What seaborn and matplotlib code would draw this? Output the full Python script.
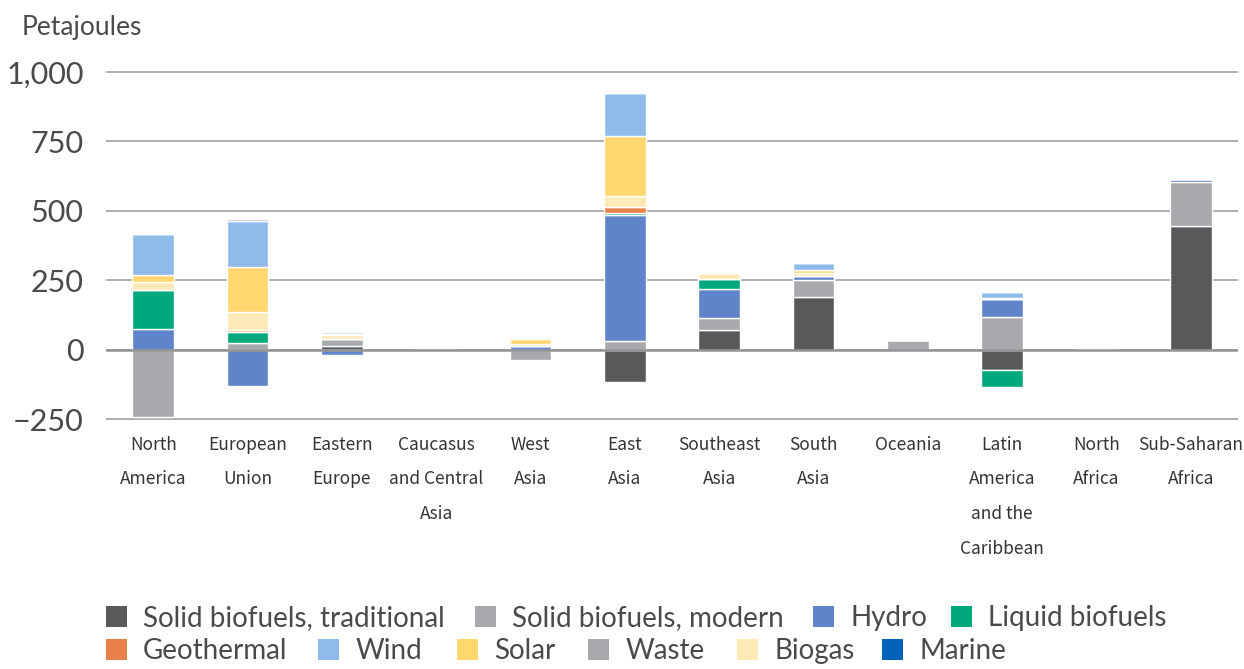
import numpy as np
import matplotlib.pyplot as plt
import seaborn as sns
from matplotlib.patches import Patch

regions = ["North\nAmerica", "European\nUnion", "Eastern\nEurope", "Caucasus\nand Central\nAsia",
           "West\nAsia", "East\nAsia", "Southeast\nAsia", "South\nAsia", "Oceania",
           "Latin\nAmerica\nand the\nCaribbean", "North\nAfrica", "Sub-Saharan\nAfrica"]

# petajoules, one value per region
trad = [0, 0, 12, 0, 0, -115, 70, 191, 0, -75, 0, 444]
modern = [-242, 22, 28, 0, -37, 32, 43, 60, 33, 119, 2, 160]
hydro = [76, -130, -20, 6, 14, 452, 107, 14, 0, 62, 0, 12]
liquid = [137, 40, 0, 0, 0, 7, 34, 0, 0, -60, 0, 0]
geothermal = [0, 7, 0, 0, 0, 22, 0, 0, 0, 0, 0, 0]
biogas = [29, 67, 12, 0, 5, 42, 22, 10, 0, 0, 0, 0]
solar = [25, 160, 4, 0, 18, 213, 0, 12, 0, 5, 0, 0]
wind = [151, 167, 6, 0, 6, 157, 0, 26, 0, 22, 0, 0]
waste = [0, 9, 0, 0, 0, 0, 0, 0, 0, 0, 0, 0]
marine = [0, 0, 0, 0, 0, 0, 0, 0, 0, 0, 0, 0]

ytick_vals = [-250, 0, 250, 500, 750, 1000]
ytick_labels = ["\u2212250", "0", "250", "500", "750", "1,000"]

colors = {
    "Solid biofuels, traditional": "#58595b",
    "Solid biofuels, modern": "#a7a9ac",
    "Hydro": "#6084c9",
    "Liquid biofuels": "#00a87e",
    "Geothermal": "#e8804a",
    "Wind": "#8fbbeb",
    "Solar": "#ffd76e",
    "Waste": "#a7a9ac",
    "Biogas": "#ffe9b7",
    "Marine": "#0062b8",
}

# order in which the pieces are stacked
stack = [("Solid biofuels, traditional", trad), ("Solid biofuels, modern", modern),
         ("Hydro", hydro), ("Liquid biofuels", liquid), ("Geothermal", geothermal),
         ("Biogas", biogas), ("Solar", solar), ("Wind", wind), ("Waste", waste),
         ("Marine", marine)]

# legend layout: (name, left of square in px, row centre in px)
legend_spots = [("Solid biofuels, traditional", 106, 618), ("Solid biofuels, modern", 475, 618),
                ("Hydro", 813, 618), ("Liquid biofuels", 951, 618),
                ("Geothermal", 106, 651), ("Wind", 318, 651), ("Solar", 457, 651),
                ("Waste", 588, 651), ("Biogas", 737, 651), ("Marine", 882, 651)]

sns.set_style("white")
plt.rcParams["font.family"] = ["Lato", "DejaVu Sans"]

fig, ax = plt.subplots(figsize=(12.44, 6.69), dpi=100)
fig.subplots_adjust(left=106 / 1244, right=1238 / 1244, top=1 - 70.6 / 669, bottom=1 - 420.4 / 669)

pos = np.zeros(len(regions))
neg = np.zeros(len(regions))
for name, vals in stack:
    v = np.array(vals, dtype=float)
    base = np.where(v >= 0, pos, neg)
    sns.barplot(x=regions, y=v, bottom=base, color=colors[name], width=0.44, saturation=1,
                edgecolor="white", linewidth=1, errorbar=None, ax=ax, zorder=3)
    pos += np.clip(v, 0, None)
    neg += np.clip(v, None, 0)

ax.set_ylim(-255, 1005)
ax.set_xlim(-0.5, len(regions) - 0.5)
ax.set_yticks(ytick_vals)
ax.set_yticklabels(ytick_labels)
ax.yaxis.grid(True, color="#a8a8a8", linewidth=1.3)
ax.set_axisbelow(True)
ax.axhline(0, color="#939393", linewidth=1.8, zorder=4)
sns.despine(ax=ax, left=True, bottom=True)
ax.set_xlabel("")
ax.set_ylabel("")

ax.tick_params(axis="y", length=0, pad=16, labelsize=22, labelcolor="#4a4a4a")
ax.tick_params(axis="x", length=0, pad=11, labelcolor="#333333")
for lbl in ax.get_xticklabels():
    # narrow latin glyphs stand in for the condensed face of the original
    lbl.set_fontfamily(["Noto Sans CJK JP", "DejaVu Sans"])
    lbl.set_fontsize(12.5)
    lbl.set_linespacing(2.2)

fig.text(22 / 1244, 1 - 28 / 669, "Petajoules", fontsize=19,
         color="#4a4a4a", ha="left", va="center")

for name, xpix, ypix in legend_spots:
    leg = fig.legend(handles=[Patch(facecolor=colors[name], edgecolor="none")], labels=[name],
                     loc="center left", bbox_to_anchor=(xpix / 1244, 1 - ypix / 669),
                     frameon=False, fontsize=20, handlelength=0.76, handleheight=0.76,
                     handletextpad=0.58, borderpad=0, borderaxespad=0)
    for t in leg.get_texts():
        t.set_color("#4a4a4a")

fig.savefig("out.png", dpi=100)
